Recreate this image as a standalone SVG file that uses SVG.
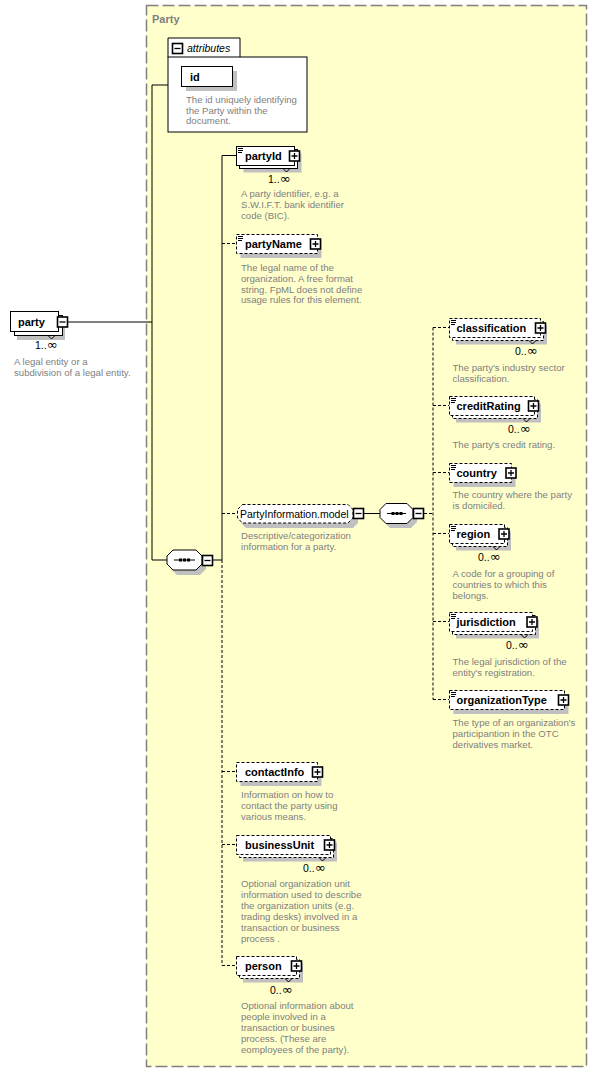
<svg xmlns="http://www.w3.org/2000/svg" xmlns:xlink="http://www.w3.org/1999/xlink" width="597" height="1072" viewBox="0 0 597 1072">
<style>
.bg{fill:#FFFFCC;stroke:#808080;stroke-width:1.5;stroke-dasharray:12,4}
.sh{fill:#C0C0C0;stroke:none}
.box{fill:#FFFFFF;stroke:#000000;stroke-width:1}
.ibox{fill:#FFFFFF;stroke:#000000;stroke-width:1.6}
.opt{stroke-dasharray:3,2}
.ln{fill:none;stroke:#000000;stroke-width:1}
.il{fill:none;stroke:#000000;stroke-width:1.3}
.dl{fill:none;stroke:#000000;stroke-width:1;stroke-dasharray:3,2}
.lbl{font-family:"Liberation Sans",Arial,sans-serif;font-size:11px;font-weight:bold;fill:#000000}
.grp{font-family:"Liberation Sans",Arial,sans-serif;font-size:10.5px;fill:#000000}
.desc{font-family:"Liberation Sans",Arial,sans-serif;font-size:9.6px;fill:#808080}
.mult{font-family:"Liberation Sans",Arial,sans-serif;font-size:10.5px;fill:#000000}
.inf{font-family:"DejaVu Sans",sans-serif;font-size:13px}
.title{font-family:"Liberation Sans",Arial,sans-serif;font-size:11px;font-weight:bold;fill:#808080}
.ital{font-family:"Liberation Sans",Arial,sans-serif;font-size:10.5px;font-style:italic;fill:#000000}
</style>
<defs>
<g id="plus"><rect x="-5" y="-5" width="10" height="10" class="ibox"/><path d="M-3 0H3M0 -3V3" class="il"/></g>
<g id="minus"><rect x="-5" y="-5" width="10" height="10" class="ibox"/><path d="M-3 0H3" class="il"/></g>
<g id="eic"><rect x="1" y="1" width="7" height="7" fill="#FFFFFF"/><path d="M2 2.5H7M2 4.5H7M2 6.5H6" class="ln"/></g>
<g id="seq"><path d="M6 0H29L35 6V14L29 20H6L0 14V6Z" class="box"/><path d="M7 10H28" class="ln"/><rect x="12" y="8.5" width="3" height="3"/><rect x="16" y="8.5" width="3" height="3"/><rect x="20" y="8.5" width="3" height="3"/></g>
</defs>

<rect id="party-bg" x="146.5" y="5.5" width="440" height="1061" class="bg"/>
<text class="title" x="152" y="23">Party</text>

<g id="connectors">
<path d="M68 322H152M152 85V560M152 85H168M152 560H167M213 560H222M222 155.5V560M222 155.5H236M364 513.5H380" class="ln"/>
<path d="M222 560V965.5M222 243.5H236M222 513.5H237M222 771.5H236M222 844.5H236M222 965.5H236M424 513.5H433M433 327.5V699.5M433 327.5H449M433 405.5H449M433 472.5H449M433 533.5H449M433 621.5H449M433 699.5H449" class="dl"/>
</g>

<g id="attributes">
<path d="M168 57V38H240V57" class="box"/>
<rect x="168" y="57" width="139" height="75" class="box"/>
<use xlink:href="#minus" x="177.5" y="48.5"/>
<text class="ital" x="187" y="52">attributes</text>
<g id="attr-id">
<rect x="186" y="71" width="51" height="20" class="sh"/>
<rect x="181.5" y="66.5" width="51" height="20" class="box"/>
<text class="lbl" x="190" y="81">id</text>
</g>
<text class="desc"><tspan x="186" y="103">The id uniquely identifying</tspan><tspan x="186" y="113.5">the Party within the</tspan><tspan x="186" y="124">document.</tspan></text>
</g>

<g id="party">
<rect x="17" y="319" width="48" height="21" class="sh"/>
<rect x="14.5" y="315.5" width="48" height="20" class="box"/>
<path d="M48 335.5L51.5 339L55 335.5" class="ln"/>
<rect x="10.5" y="311.5" width="48" height="20" class="box"/>
<text class="lbl" x="18" y="326">party</text>
<use xlink:href="#minus" x="62.5" y="322"/>
<text class="mult" x="35" y="349">1..<tspan class="inf">∞</tspan></text>
<text class="desc"><tspan x="14" y="365">A legal entity or a</tspan><tspan x="14" y="376">subdivision of a legal entity.</tspan></text>
</g>

<g id="seq1">
<path d="M10 5H33L39 11V19L33 25H10L4 19V11Z" class="sh" transform="translate(167 550)"/>
<use xlink:href="#seq" x="167" y="550"/>
<use xlink:href="#minus" x="207.5" y="560.5"/>
</g>

<g id="partyId">
<rect x="243.5" y="153.5" width="58" height="19" class="sh"/>
<rect x="239.5" y="149.5" width="58" height="19" class="box"/>
<path d="M283 168.5L286.5 172L290 168.5" class="ln"/>
<rect x="236.5" y="146.5" width="58" height="19" class="box"/>
<use xlink:href="#eic" x="236" y="146"/>
<text class="lbl" x="245" y="160">partyId</text>
<use xlink:href="#plus" x="294.5" y="156"/>
<text class="mult" x="268" y="183">1..<tspan class="inf">∞</tspan></text>
<text class="desc"><tspan x="241" y="197">A party identifier, e.g. a</tspan><tspan x="241" y="208">S.W.I.F.T. bank identifier</tspan><tspan x="241" y="219">code (BIC).</tspan></text>
</g>

<g id="partyName">
<rect x="240.5" y="239" width="81" height="19" class="sh"/>
<rect x="236.5" y="234.5" width="81" height="19" class="box opt"/>
<use xlink:href="#eic" x="236" y="234"/>
<text class="lbl" x="245" y="248">partyName</text>
<use xlink:href="#plus" x="315.5" y="244"/>
<text class="desc"><tspan x="241" y="271">The legal name of the</tspan><tspan x="241" y="282">organization. A free format</tspan><tspan x="241" y="292.5">string. FpML does not define</tspan><tspan x="241" y="303">usage rules for this element.</tspan></text>
</g>

<g id="PartyInformation.model">
<path d="M246 509H353L358 514V523L353 528H246L241 523V514Z" class="sh"/>
<path d="M242.5 504.5H348L353 509.5V518L348 523H242.5L237.5 518V509.5Z" class="box opt"/>
<text class="grp" x="240" y="517.5">PartyInformation.model</text>
<use xlink:href="#minus" x="358.5" y="513.5"/>
<text class="desc"><tspan x="241" y="539">Descriptive/categorization</tspan><tspan x="241" y="550">information for a party.</tspan></text>
</g>

<g id="seq2">
<path d="M10 5H31L37 11V19L31 25H10L4 19V11Z" class="sh" transform="translate(380 503)"/>
<path d="M386 503.5H407L413 509.5V517.5L407 523.5H386L380 517.5V509.5Z" class="box"/>
<path d="M387 513.5H406" class="ln"/>
<rect x="391.5" y="512" width="3" height="3"/><rect x="395.5" y="512" width="3" height="3"/><rect x="399.5" y="512" width="3" height="3"/>
<use xlink:href="#minus" x="418.5" y="513.5"/>
</g>

<g id="classification">
<rect x="456" y="325.5" width="91" height="19" class="sh"/>
<rect x="452.5" y="321.5" width="91" height="19" class="box opt"/>
<path d="M529 340.5L532.5 344L536 340.5" class="ln"/>
<rect x="449.5" y="318.5" width="91" height="19" class="box opt"/>
<use xlink:href="#eic" x="449" y="318"/>
<text class="lbl" x="456.5" y="332">classification</text>
<use xlink:href="#plus" x="540.5" y="328"/>
<text class="mult" x="515" y="355">0..<tspan class="inf">∞</tspan></text>
<text class="desc"><tspan x="452.5" y="371">The party's industry sector</tspan><tspan x="452.5" y="382">classification.</tspan></text>
</g>

<g id="creditRating">
<rect x="456" y="403.5" width="85" height="19" class="sh"/>
<rect x="452.5" y="399.5" width="85" height="19" class="box opt"/>
<path d="M523 418.5L526.5 422L530 418.5" class="ln"/>
<rect x="449.5" y="396.5" width="85" height="19" class="box opt"/>
<use xlink:href="#eic" x="449" y="396"/>
<text class="lbl" x="456.5" y="410">creditRating</text>
<use xlink:href="#plus" x="533.5" y="406"/>
<text class="mult" x="508" y="433">0..<tspan class="inf">∞</tspan></text>
<text class="desc"><tspan x="452.5" y="448">The party's credit rating.</tspan></text>
</g>

<g id="country">
<rect x="453.5" y="468" width="62" height="19" class="sh"/>
<rect x="449.5" y="463.5" width="62" height="19" class="box opt"/>
<use xlink:href="#eic" x="449" y="463"/>
<text class="lbl" x="456.5" y="477">country</text>
<use xlink:href="#plus" x="511" y="473"/>
<text class="desc"><tspan x="452.5" y="498">The country where the party</tspan><tspan x="452.5" y="509">is domiciled.</tspan></text>
</g>

<g id="region">
<rect x="456" y="531.5" width="55" height="19" class="sh"/>
<rect x="452.5" y="527.5" width="55" height="19" class="box opt"/>
<path d="M493 546.5L496.5 550L500 546.5" class="ln"/>
<rect x="449.5" y="524.5" width="55" height="19" class="box opt"/>
<use xlink:href="#eic" x="449" y="524"/>
<text class="lbl" x="456.5" y="538">region</text>
<use xlink:href="#plus" x="504" y="534"/>
<text class="mult" x="478" y="561">0..<tspan class="inf">∞</tspan></text>
<text class="desc"><tspan x="452.5" y="577">A code for a grouping of</tspan><tspan x="452.5" y="588">countries to which this</tspan><tspan x="452.5" y="599">belongs.</tspan></text>
</g>

<g id="jurisdiction">
<rect x="456" y="619.5" width="83" height="19" class="sh"/>
<rect x="452.5" y="615.5" width="83" height="19" class="box opt"/>
<path d="M521 634.5L524.5 638L528 634.5" class="ln"/>
<rect x="449.5" y="612.5" width="83" height="19" class="box opt"/>
<use xlink:href="#eic" x="449" y="612"/>
<text class="lbl" x="456.5" y="626">jurisdiction</text>
<use xlink:href="#plus" x="532" y="622"/>
<text class="mult" x="506" y="649">0..<tspan class="inf">∞</tspan></text>
<text class="desc"><tspan x="452.5" y="665">The legal jurisdiction of the</tspan><tspan x="452.5" y="676">entity's registration.</tspan></text>
</g>

<g id="organizationType">
<rect x="453.5" y="695" width="115" height="19" class="sh"/>
<rect x="449.5" y="690.5" width="115" height="19" class="box opt"/>
<use xlink:href="#eic" x="449" y="690"/>
<text class="lbl" x="456.5" y="704">organizationType</text>
<use xlink:href="#plus" x="563.5" y="700"/>
<text class="desc"><tspan x="452.5" y="726">The type of an organization's</tspan><tspan x="452.5" y="737">participantion in the OTC</tspan><tspan x="452.5" y="748">derivatives market.</tspan></text>
</g>

<g id="contactInfo">
<rect x="240.5" y="767" width="81" height="19" class="sh"/>
<rect x="236.5" y="762.5" width="81" height="19" class="box opt"/>
<text class="lbl" x="245" y="776">contactInfo</text>
<use xlink:href="#plus" x="317.5" y="772"/>
<text class="desc"><tspan x="241" y="798">Information on how to</tspan><tspan x="241" y="809">contact the party using</tspan><tspan x="241" y="820">various means.</tspan></text>
</g>

<g id="businessUnit">
<rect x="243" y="842.5" width="94" height="19" class="sh"/>
<rect x="239.5" y="838.5" width="94" height="19" class="box opt"/>
<path d="M319 857.5L322.5 861L326 857.5" class="ln"/>
<rect x="236.5" y="835.5" width="94" height="19" class="box opt"/>
<text class="lbl" x="245" y="849">businessUnit</text>
<use xlink:href="#plus" x="329.5" y="845"/>
<text class="mult" x="303" y="872">0..<tspan class="inf">∞</tspan></text>
<text class="desc"><tspan x="241" y="887">Optional organization unit</tspan><tspan x="241" y="898">information used to describe</tspan><tspan x="241" y="909">the organization units (e.g.</tspan><tspan x="241" y="920">trading desks) involved in a</tspan><tspan x="241" y="931">transaction or business</tspan><tspan x="241" y="942">process .</tspan></text>
</g>

<g id="person">
<rect x="243" y="963.5" width="60" height="19" class="sh"/>
<rect x="239.5" y="959.5" width="60" height="19" class="box opt"/>
<path d="M285 978.5L288.5 982L292 978.5" class="ln"/>
<rect x="236.5" y="956.5" width="60" height="19" class="box opt"/>
<text class="lbl" x="245" y="970">person</text>
<use xlink:href="#plus" x="296.5" y="966"/>
<text class="mult" x="270" y="994">0..<tspan class="inf">∞</tspan></text>
<text class="desc"><tspan x="241" y="1009">Optional information about</tspan><tspan x="241" y="1020">people involved in a</tspan><tspan x="241" y="1031">transaction or busines</tspan><tspan x="241" y="1042">process. (These are</tspan><tspan x="241" y="1053">eomployees of the party).</tspan></text>
</g>
</svg>
